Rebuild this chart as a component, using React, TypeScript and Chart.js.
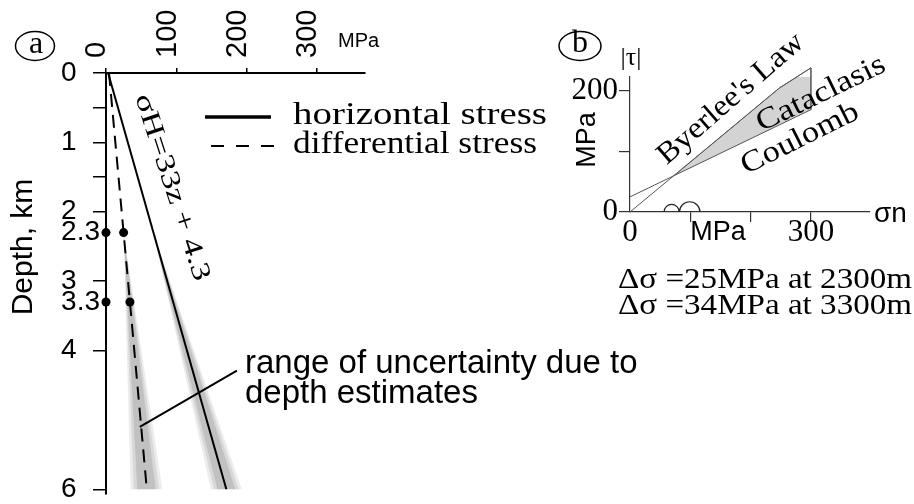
import React, { useEffect, useRef } from 'react';
import { Chart, registerables } from 'chart.js';

Chart.register(...registerables);

// ---------- Panel (a): stress vs depth ----------
const depthKm = [0, 6];
const horizontalStress = [3, 171];
const diffDepthKm = [0, 2.3, 3.3, 6];
const differentialStress = [4.3, 25, 34, 58];
const measuredDepthKm = [2.3, 3.3];
const measuredDiff = [25, 34];
const bandDepthKm = [2.3, 6];
const hBandLow = [67, 149];
const hBandHigh = [67, 193];
const dBandLow = [25, 35];
const dBandHigh = [25, 80];
const depthTicks = [0, 0.5, 1, 1.5, 2, 2.3, 3, 3.3, 4, 6];
const depthTickLabels = ['0', '', '1', '', '2', '2.3', '3', '3.3', '4', '6'];
const stressTicks = [0, 100, 200, 300];
const stressTickLabels = ['0', '100', '200', '300'];

// ---------- Panel (b): Mohr diagram ----------
const byerleeSn = [0, 248, 300];
const byerleeTau = [0, 205, 238];
const coulombSn = [0, 300];
const coulombTau = [25, 169];
const cataclasisSn = [73, 248, 300, 300];
const cataclasisTau = [60, 205, 238, 169];
const mohrMean = [69, 99];
const mohrDiff = [25, 34];
const snTicks = [0, 100, 200, 300];
const snTickLabels = ['0', '', '', '300'];
const tauTicks = [0, 100, 200];
const tauTickLabels = ['0', '', '200'];

const SANS = '"Liberation Sans", Arial, Helvetica, sans-serif';
const SERIF = '"Liberation Serif", "Times New Roman", Times, serif';

type TOpt = { font: string; width?: number; rot?: number; align?: CanvasTextAlign; baseline?: CanvasTextBaseline; color?: string };
function txt(ctx: CanvasRenderingContext2D, s: string, x: number, y: number, o: TOpt) {
  ctx.save();
  ctx.translate(x, y);
  if (o.rot) ctx.rotate((o.rot * Math.PI) / 180);
  ctx.font = o.font;
  ctx.textAlign = o.align || 'left';
  ctx.textBaseline = o.baseline || 'alphabetic';
  ctx.fillStyle = o.color || '#000';
  if (o.width) {
    const w = ctx.measureText(s).width;
    ctx.scale(o.width / w, 1);
  }
  ctx.fillText(s, 0, 0);
  ctx.restore();
}
function seg(ctx: CanvasRenderingContext2D, x1: number, y1: number, x2: number, y2: number, w: number, dash: number[] = [], color = '#000') {
  ctx.save();
  ctx.beginPath();
  ctx.setLineDash(dash);
  ctx.lineWidth = w;
  ctx.strokeStyle = color;
  ctx.moveTo(x1, y1);
  ctx.lineTo(x2, y2);
  ctx.stroke();
  ctx.restore();
}

function wedge(low: number[], high: number[], f: number) {
  const pts: { x: number; y: number }[] = [];
  for (let i = 0; i < bandDepthKm.length; i++) {
    const c = (low[i] + high[i]) / 2;
    pts.push({ x: c - f * (c - low[i]), y: bandDepthKm[i] });
  }
  for (let i = bandDepthKm.length - 1; i >= 0; i--) {
    const c = (low[i] + high[i]) / 2;
    pts.push({ x: c + f * (high[i] - c), y: bandDepthKm[i] });
  }
  return pts;
}
function bandLayers(low: number[], high: number[]) {
  const layers = [
    { f: 1, a: 0.13 },
    { f: 0.8, a: 0.16 },
    { f: 0.58, a: 0.22 },
  ];
  return layers.map((l) => ({
    label: 'band',
    data: wedge(low, high, l.f),
    fill: 'shape',
    backgroundColor: `rgba(110,110,110,${l.a})`,
    borderWidth: 0,
    pointRadius: 0,
  }));
}

const annotA = {
  id: 'annotA',
  afterDraw(chart: any) {
    const ctx: CanvasRenderingContext2D = chart.ctx;
    const x = chart.scales.x;
    const y = chart.scales.y;
    ctx.save();
    // circled "a"
    ctx.beginPath();
    ctx.ellipse(35, 46, 19.5, 14.5, 0, 0, Math.PI * 2);
    ctx.lineWidth = 1.5;
    ctx.strokeStyle = '#000';
    ctx.stroke();
    txt(ctx, 'a', 36, 45, { font: `32px ${SERIF}`, align: 'center', baseline: 'middle' });
    // axis unit
    txt(ctx, 'MPa', 338, 47, { font: `20px ${SANS}` });
    // legend
    seg(ctx, 205, 117, 271, 117, 3.5);
    seg(ctx, 211, 146, 274, 146, 2, [13, 12]);
    txt(ctx, 'horizontal stress', 293, 124, { font: `32px ${SERIF}`, width: 254 });
    txt(ctx, 'differential stress', 293, 153, { font: `32px ${SERIF}`, width: 244 });
    // sigma H label along line
    txt(ctx, 'σH=33z + 4.3', 135, 97, { font: `27px ${SERIF}`, rot: 72, width: 195 });
    // uncertainty note
    txt(ctx, 'range of uncertainty due to', 245, 373, { font: `33px ${SANS}` });
    txt(ctx, 'depth estimates', 245, 403, { font: `33px ${SANS}` });
    seg(ctx, x.getPixelForValue(186), y.getPixelForValue(4.29), x.getPixelForValue(48), y.getPixelForValue(5.1), 2);
    // axis title
    txt(ctx, 'Depth, km', 32, 247, { font: `30px ${SANS}`, rot: -90, align: 'center' });
    ctx.restore();
  },
};

const annotB = {
  id: 'annotB',
  afterDatasetsDraw(chart: any) {
    const ctx: CanvasRenderingContext2D = chart.ctx;
    const x = chart.scales.x;
    const y = chart.scales.y;
    ctx.save();
    ctx.lineWidth = 1.2;
    ctx.strokeStyle = '#222';
    const y0 = y.getPixelForValue(0);
    mohrMean.forEach((m, i) => {
      const cx = x.getPixelForValue(m);
      const r = x.getPixelForValue(m + mohrDiff[i] / 2) - cx;
      ctx.beginPath();
      ctx.arc(cx, y0, r, Math.PI, 2 * Math.PI);
      ctx.stroke();
    });
    ctx.restore();
  },
  afterDraw(chart: any) {
    const ctx: CanvasRenderingContext2D = chart.ctx;
    const x = chart.scales.x;
    ctx.save();
    ctx.beginPath();
    ctx.ellipse(580, 46, 21, 14.5, 0, 0, Math.PI * 2);
    ctx.lineWidth = 1.5;
    ctx.strokeStyle = '#000';
    ctx.stroke();
    txt(ctx, 'b', 580, 44, { font: `32px ${SERIF}`, align: 'center', baseline: 'middle' });
    txt(ctx, '|τ|', 631, 58, { font: `26px ${SERIF}`, align: 'center', baseline: 'middle' });
    txt(ctx, 'MPa', 595, 140, { font: `27px ${SANS}`, rot: -90, align: 'center' });
    txt(ctx, 'σn', 874, 214, { font: `28px ${SANS}`, baseline: 'middle' });
    txt(ctx, 'MPa', x.getPixelForValue(146), 240, { font: `27px ${SANS}`, align: 'center' });
    txt(ctx, "Byerlee's Law", 731, 99, { font: `30px ${SERIF}`, rot: -41, align: 'center', baseline: 'middle', width: 184 });
    txt(ctx, 'Cataclasis', 821, 94, { font: `30px ${SERIF}`, rot: -26, align: 'center', baseline: 'middle', width: 140 });
    txt(ctx, 'Coulomb', 800, 139, { font: `30px ${SERIF}`, rot: -26.5, align: 'center', baseline: 'middle', width: 128 });
    txt(ctx, 'Δσ =25MPa at 2300m', 618, 288, { font: `30px ${SERIF}`, width: 294 });
    txt(ctx, 'Δσ =34MPa at 3300m', 618, 314, { font: `30px ${SERIF}`, width: 294 });
    ctx.restore();
  },
};

function makeA(canvas: HTMLCanvasElement) {
  return new Chart(canvas, {
    type: 'line',
    data: {
      datasets: [
        {
          label: 'dots',
          data: [
            ...measuredDepthKm.map((d) => ({ x: 0, y: d })),
            ...measuredDepthKm.map((d, i) => ({ x: measuredDiff[i], y: d })),
          ],
          showLine: false,
          pointRadius: 4.5,
          pointBorderWidth: 0,
          pointBackgroundColor: '#000',
          clip: false,
        },
        {
          label: 'horizontal stress',
          data: depthKm.map((d, i) => ({ x: horizontalStress[i], y: d })),
          borderColor: '#000',
          borderWidth: 2,
          pointRadius: 0,
          fill: false,
        },
        {
          label: 'differential stress',
          data: diffDepthKm.map((d, i) => ({ x: differentialStress[i], y: d })),
          borderColor: '#000',
          borderWidth: 2,
          borderDash: [13, 8],
          pointRadius: 0,
          fill: false,
        },
        ...bandLayers(hBandLow, hBandHigh),
        ...bandLayers(dBandLow, dBandHigh),
      ] as any,
    },
    options: {
      responsive: false,
      animation: false,
      devicePixelRatio: 1,
      layout: { padding: { left: 0, top: 0, right: 549, bottom: 6 } },
      plugins: { legend: { display: false }, tooltip: { enabled: false } },
      scales: {
        x: {
          type: 'linear',
          position: 'top',
          min: 0,
          max: 368,
          afterFit: (s: any) => {
            s.height = 73;
          },
          afterBuildTicks: (s: any) => {
            s.ticks = stressTicks.map((v) => ({ value: v }));
          },
          ticks: {
            minRotation: 90,
            maxRotation: 90,
            autoSkip: false,
            padding: 10,
            labelOffset: 26,
            color: '#000',
            font: { family: SANS, size: 29 },
            callback: (v: any) => stressTickLabels[stressTicks.indexOf(Number(v))] ?? '',
          },
          grid: { drawOnChartArea: false, tickLength: 5, color: '#000', lineWidth: 1.5 },
          border: { color: '#000', width: 2 },
        },
        y: {
          type: 'linear',
          reverse: true,
          min: 0,
          max: 6.07,
          afterFit: (s: any) => {
            s.width = 106;
          },
          afterBuildTicks: (s: any) => {
            s.ticks = depthTicks.map((v) => ({ value: v }));
          },
          ticks: {
            autoSkip: false,
            padding: -7,
            color: '#000',
            font: { family: SANS, size: 28 },
            callback: (v: any) => {
              const i = depthTicks.indexOf(Number(v));
              const l = depthTickLabels[i] ?? '';
              if (l && l.indexOf('.') < 0) return l + '\u00a0\u00a0\u00a0';
              return l;
            },
          },
          grid: {
            drawOnChartArea: false,
            tickLength: 13,
            lineWidth: 1.5,
            color: (c: any) => (c.tick && (c.tick.value === 2.3 || c.tick.value === 3.3) ? 'rgba(0,0,0,0)' : '#000'),
          },
          border: { color: '#000', width: 2 },
        },
      },
    } as any,
    plugins: [annotA],
  });
}

function makeB(canvas: HTMLCanvasElement) {
  const lineStyle = { borderColor: '#555', borderWidth: 1, pointRadius: 0, fill: false, clip: false };
  return new Chart(canvas, {
    type: 'line',
    data: {
      datasets: [
        { label: "Byerlee's Law", data: byerleeSn.map((s, i) => ({ x: s, y: byerleeTau[i] })), ...lineStyle },
        { label: 'Coulomb', data: coulombSn.map((s, i) => ({ x: s, y: coulombTau[i] })), ...lineStyle },
        {
          label: 'Cataclasis',
          data: cataclasisSn.map((s, i) => ({ x: s, y: cataclasisTau[i] })),
          fill: 'shape',
          backgroundColor: '#d3d3d3',
          borderColor: '#666',
          borderWidth: 1,
          pointRadius: 0,
          clip: false,
        },
      ] as any,
    },
    options: {
      responsive: false,
      animation: false,
      devicePixelRatio: 1,
      layout: { padding: { left: 570, top: 77, right: 44, bottom: 252 } },
      plugins: { legend: { display: false }, tooltip: { enabled: false } },
      scales: {
        x: {
          type: 'linear',
          position: 'bottom',
          min: 0,
          max: 398,
          afterFit: (s: any) => {
            s.height = 40;
          },
          afterBuildTicks: (s: any) => {
            s.ticks = snTicks.map((v) => ({ value: v }));
          },
          ticks: {
            autoSkip: false,
            maxRotation: 0,
            padding: -8,
            color: '#000',
            font: { family: SERIF, size: 31 },
            callback: (v: any) => snTickLabels[snTicks.indexOf(Number(v))] ?? '',
          },
          grid: {
            drawOnChartArea: false,
            tickLength: 10,
            lineWidth: 1.2,
            color: (c: any) => (c.tick && c.tick.value === 0 ? 'rgba(0,0,0,0)' : '#333'),
          },
          border: { color: '#333', width: 1.2 },
        },
        y: {
          type: 'linear',
          min: 0,
          max: 223,
          afterFit: (s: any) => {
            s.width = 60;
          },
          afterBuildTicks: (s: any) => {
            s.ticks = tauTicks.map((v) => ({ value: v }));
          },
          ticks: {
            autoSkip: false,
            padding: 1,
            color: '#000',
            font: { family: SERIF, size: 31 },
            callback: (v: any) => tauTickLabels[tauTicks.indexOf(Number(v))] ?? '',
          },
          grid: { drawOnChartArea: false, tickLength: 11, lineWidth: 1.2, color: '#333' },
          border: { color: '#333', width: 1.2 },
        },
      },
    } as any,
    plugins: [annotB],
  });
}

export default function App() {
  const refA = useRef<HTMLCanvasElement>(null);
  const refB = useRef<HTMLCanvasElement>(null);
  useEffect(() => {
    Chart.defaults.color = '#000';
    const a = makeA(refA.current!);
    const b = makeB(refB.current!);
    return () => {
      a.destroy();
      b.destroy();
    };
  }, []);
  return (
    <div style={{ position: 'fixed', left: 0, top: 0, width: 914, height: 504, background: '#fff', overflow: 'hidden' }}>
      <canvas ref={refA} width={914} height={504} style={{ position: 'absolute', left: 0, top: 0 }} />
      <canvas ref={refB} width={914} height={504} style={{ position: 'absolute', left: 0, top: 0 }} />
    </div>
  );
}
